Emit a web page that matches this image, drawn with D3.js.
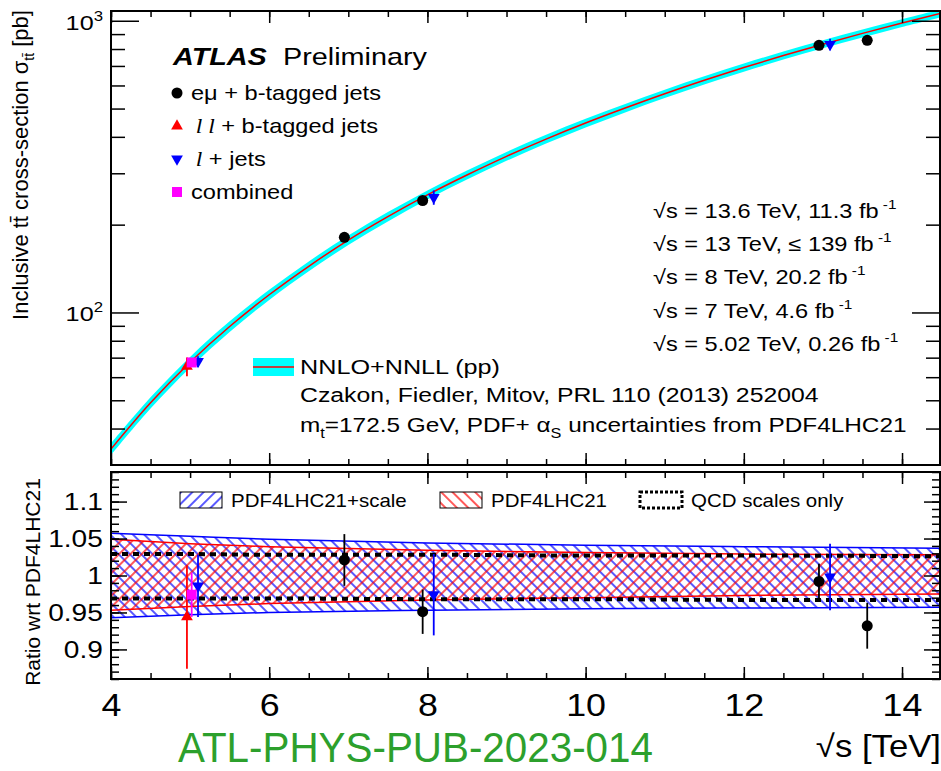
<!DOCTYPE html>
<html>
<head>
<meta charset="utf-8">
<script src="https://cdn.jsdelivr.net/npm/d3@7"></script>
<style>
body { margin: 0; background: #fff; }
text { font-family: "Liberation Sans", Arial, Helvetica, sans-serif; fill: #000; }
</style>
</head>
<body>
<div class="container"></div>
<script>
const width = 941, height = 771;
const plotL = 111, plotR = 940;
const topT = 11, topB = 465, ratT = 472, ratB = 679;

// NNLO+NNLL prediction (pb) vs sqrt(s) (TeV)
const theoryE = [4, 4.5, 5, 5.5, 6, 6.5, 7, 7.5, 8, 8.5, 9, 9.5, 10, 10.5, 11, 11.5, 12, 12.5, 13, 13.5, 14, 14.5];
const theorySigma = [34, 49, 67.5, 89.5, 115, 144, 177, 213, 253, 296, 343, 393, 446, 502, 562, 625, 691, 760, 831, 905, 982, 1062];

// relative uncertainty bands (ratio to central)
const bandE = [4, 5, 6, 8, 10, 12, 14.5];
const totalUp = [1.057, 1.053, 1.049, 1.044, 1.041, 1.039, 1.037];
const totalDn = [0.943, 0.947, 0.950, 0.953, 0.955, 0.956, 0.957];
const pdfUp = [1.049, 1.043, 1.039, 1.034, 1.031, 1.029, 1.028];
const pdfDn = [0.953, 0.958, 0.962, 0.967, 0.970, 0.973, 0.975];
const scaleUp = [1.029, 1.029, 1.028, 1.028, 1.027, 1.027, 1.026];
const scaleDn = [0.969, 0.969, 0.969, 0.968, 0.968, 0.967, 0.967];
// cyan band half-width in the upper panel (relative)
const cyanHalf = [0.046, 0.043, 0.040, 0.036, 0.034, 0.032, 0.031];

// measurements
const emuE = [6.95, 7.94, 12.95, 13.56];
const emuSigma = [181, 242, 824, 857];
const emuRatio = [1.021, 0.951, 0.992, 0.932];
const emuErr = [0.035, 0.030, 0.024, 0.031];

const llE = [4.96];
const llSigma = [65.3];
const llRatio = [0.944];
const llErr = [0.070];

const ljE = [5.10, 8.08, 13.09];
const ljSigma = [67.9, 248, 830];
const ljRatio = [0.986, 0.974, 0.998];
const ljErr = [0.042, 0.055, 0.045];

const combE = [5.02];
const combSigma = [67.4];
const combRatio = [0.974];
const combErr = [0.030];

const runEnergy = ["13.6", "13", "8", "7", "5.02"];
const runLumi = ["11.3", "\u2264 139", "20.2", "4.6", "0.26"];

const xTicks = [4, 6, 8, 10, 12, 14];
const xMinor = d3.range(4, 14.5, 0.5);
const yTopMajor = [100, 1000];
const yTopMinor = [40, 50, 60, 70, 80, 90, 200, 300, 400, 500, 600, 700, 800, 900];
const yRatTicks = [0.9, 0.95, 1, 1.05, 1.1];
const yRatMinor = d3.range(86, 115).map(v => v / 100);

const svg = d3.select(".container")
    .append("svg")
    .attr("width", width)
    .attr("height", height);

const x = d3.scaleLinear().domain([4, 14.48]).range([plotL, plotR]);
const yTop = d3.scaleLog().domain([30, 1080]).range([topB, topT]);
const yRat = d3.scaleLinear().domain([0.86, 1.14]).range([ratB, ratT]);

const defs = svg.append("defs");
const hatch = (id, color, angle, gap) => {
    const p = defs.append("pattern").attr("id", id)
        .attr("patternUnits", "userSpaceOnUse")
        .attr("width", gap).attr("height", gap)
        .attr("patternTransform", `rotate(${angle})`);
    p.append("line").attr("x1", gap / 2).attr("y1", 0).attr("x2", gap / 2).attr("y2", gap)
        .attr("stroke", color).attr("stroke-width", 1.3);
};
hatch("blueBand", "#0000ff", -45, 8);
hatch("redBand", "#ff0000", 45, 8);
hatch("blueLeg", "#0000ff", 45, 8);
hatch("redLeg", "#ff0000", -45, 8);

defs.append("clipPath").attr("id", "clipTop").append("rect")
    .attr("x", plotL).attr("y", topT).attr("width", plotR - plotL).attr("height", topB - topT);
defs.append("clipPath").attr("id", "clipRat").append("rect")
    .attr("x", plotL).attr("y", ratT).attr("width", plotR - plotL).attr("height", ratB - ratT);

const txt = (g, px, py, size, sx = 1.18, anchor = "start") => g.append("text")
    .attr("transform", `translate(${px},${py}) scale(${sx},1)`)
    .attr("font-size", size)
    .attr("text-anchor", anchor);

// ---------- top panel ----------
const gTop = svg.append("g").attr("clip-path", "url(#clipTop)");
const halfAt = d3.scaleLinear().domain(bandE).range(cyanHalf);
const theory = theoryE.map((e, i) => ({e, s: theorySigma[i]}));

gTop.append("path")
    .datum(theory)
    .attr("fill", "#00ffff")
    .attr("d", d3.area()
        .x(d => x(d.e))
        .y0(d => yTop(d.s * (1 - halfAt(d.e))))
        .y1(d => yTop(d.s * (1 + halfAt(d.e))))
        .curve(d3.curveCatmullRom));

gTop.append("path")
    .datum(theory)
    .attr("fill", "none")
    .attr("stroke", "#ff0000")
    .attr("stroke-width", 1.5)
    .attr("d", d3.line().x(d => x(d.e)).y(d => yTop(d.s)).curve(d3.curveCatmullRom));

const series = [
    {E: emuE, S: emuSigma, R: emuRatio, err: emuErr, color: "#000", sym: d3.symbolCircle, size: 95, rot: 0},
    {E: ljE, S: ljSigma, R: ljRatio, err: ljErr, color: "#0000ff", sym: d3.symbolTriangle, size: 60, rot: 180},
    {E: llE, S: llSigma, R: llRatio, err: llErr, color: "#ff0000", sym: d3.symbolTriangle, size: 60, rot: 0},
    {E: combE, S: combSigma, R: combRatio, err: combErr, color: "#ff00ff", sym: d3.symbolSquare, size: 100, rot: 0}
];

const drawPoints = (g, yScale, valueOf, lowOf, highOf) => {
    series.forEach(s => {
        const pts = s.E.map((e, i) => ({e, v: valueOf(s, i), lo: lowOf(s, i), hi: highOf(s, i)}));
        g.selectAll(null).data(pts).enter().append("line")
            .attr("x1", d => x(d.e)).attr("x2", d => x(d.e))
            .attr("y1", d => yScale(d.lo)).attr("y2", d => yScale(d.hi))
            .attr("stroke", s.color).attr("stroke-width", 1.8);
        g.selectAll(null).data(pts).enter().append("path")
            .attr("d", d3.symbol().type(s.sym).size(s.size))
            .attr("transform", d => `translate(${x(d.e)},${yScale(d.v)}) rotate(${s.rot})`)
            .attr("fill", s.color);
    });
};
drawPoints(gTop, yTop,
    (s, i) => s.S[i],
    (s, i) => s.S[i] * (1 - s.err[i] / s.R[i]),
    (s, i) => s.S[i] * (1 + s.err[i] / s.R[i]));

// ---------- ratio panel ----------
const gRat = svg.append("g").attr("clip-path", "url(#clipRat)");
const bands = bandE.map((e, i) => ({e, tu: totalUp[i], td: totalDn[i], pu: pdfUp[i], pd: pdfDn[i], su: scaleUp[i], sd: scaleDn[i]}));
const bandArea = (lo, hi) => d3.area().x(d => x(d.e)).y0(d => yRat(d[lo])).y1(d => yRat(d[hi])).curve(d3.curveMonotoneX);
const bandLine = key => d3.line().x(d => x(d.e)).y(d => yRat(d[key])).curve(d3.curveMonotoneX);

gRat.append("path").datum(bands).attr("fill", "url(#blueBand)").attr("d", bandArea("td", "tu"));
gRat.append("path").datum(bands).attr("fill", "url(#redBand)").attr("d", bandArea("pd", "pu"));
[["tu", "#0000ff"], ["td", "#0000ff"], ["pu", "#ff0000"], ["pd", "#ff0000"]].forEach(([k, c]) => {
    gRat.append("path").datum(bands).attr("fill", "none").attr("stroke", c).attr("stroke-width", 1.5).attr("d", bandLine(k));
});
["su", "sd"].forEach(k => {
    gRat.append("path").datum(bands).attr("fill", "none").attr("stroke", "#000")
        .attr("stroke-width", 4).attr("stroke-dasharray", "6,5").attr("d", bandLine(k));
});

drawPoints(gRat, yRat,
    (s, i) => s.R[i],
    (s, i) => s.R[i] - s.err[i],
    (s, i) => s.R[i] + s.err[i]);

// ---------- ticks and frames ----------
const tickSet = (axis, at, values, size) => {
    const g = svg.append("g").attr("transform", at)
        .call(axis.tickValues(values).tickSize(size).tickSizeOuter(0).tickFormat(""));
    g.select(".domain").remove();
    g.selectAll("line").attr("stroke", "#000").attr("stroke-width", 1.5);
    return g;
};
[[topT, topB], [ratT, ratB]].forEach(([t, b]) => {
    tickSet(d3.axisBottom(x), `translate(0,${b})`, xMinor, -6);
    tickSet(d3.axisBottom(x), `translate(0,${b})`, xTicks, -12);
    tickSet(d3.axisTop(x), `translate(0,${t})`, xMinor, -6);
    tickSet(d3.axisTop(x), `translate(0,${t})`, xTicks, -12);
});
tickSet(d3.axisLeft(yTop), `translate(${plotL},0)`, yTopMinor, -14);
tickSet(d3.axisLeft(yTop), `translate(${plotL},0)`, yTopMajor, -28);
tickSet(d3.axisRight(yTop), `translate(${plotR},0)`, yTopMinor, -14);
tickSet(d3.axisRight(yTop), `translate(${plotR},0)`, yTopMajor, -28);
tickSet(d3.axisLeft(yRat), `translate(${plotL},0)`, yRatMinor, -8);
tickSet(d3.axisLeft(yRat), `translate(${plotL},0)`, yRatTicks, -16);
tickSet(d3.axisRight(yRat), `translate(${plotR},0)`, yRatMinor, -8);
tickSet(d3.axisRight(yRat), `translate(${plotR},0)`, yRatTicks, -16);

svg.append("g").attr("transform", `translate(0,${ratB})`)
    .call(d3.axisBottom(x).tickValues(xTicks).tickSize(0).tickPadding(14).tickFormat(d3.format("d")))
    .call(g => g.select(".domain").remove())
    .call(g => g.attr("font-family", null).attr("font-size", null))
    .selectAll("text").attr("font-size", 32).attr("transform", "scale(1.12,1)");

svg.append("g").attr("transform", `translate(${plotL},0)`)
    .call(d3.axisLeft(yRat).tickValues(yRatTicks).tickSize(0).tickPadding(7).tickFormat(d => String(+d.toFixed(2))))
    .call(g => g.select(".domain").remove())
    .call(g => g.attr("font-family", null).attr("font-size", null))
    .selectAll("text").attr("font-size", 24).attr("transform", "scale(1.17,1)");

yTopMajor.forEach(v => {
    const t = txt(svg, 103, yTop(v) + 9, 21, 1.2, "end");
    t.append("tspan").text("10");
    t.append("tspan").attr("font-size", 14).attr("dy", -9).text(String(Math.round(Math.log10(v))));
});

[[topT, topB], [ratT, ratB]].forEach(([t, b]) => {
    svg.append("rect").attr("x", plotL).attr("y", t).attr("width", plotR - plotL).attr("height", b - t)
        .attr("fill", "none").attr("stroke", "#000").attr("stroke-width", 2);
});

// ---------- axis titles ----------
const yT = svg.append("text").attr("transform", "translate(28,165) rotate(-90)")
    .attr("font-size", 22).attr("text-anchor", "middle");
yT.append("tspan").text("Inclusive tt\u0304 cross-section \u03c3");
yT.append("tspan").attr("font-size", 14).attr("dy", 6).text("tt\u0304");
yT.append("tspan").attr("dy", -6).text(" [pb]");

svg.append("text").attr("transform", "translate(40,582) rotate(-90)")
    .attr("font-size", 21).attr("text-anchor", "middle").text("Ratio wrt PDF4LHC21");

txt(svg, 941, 757, 31, 1.12, "end").text("\u221as [TeV]");

svg.append("text").attr("x", 178).attr("y", 762)
    .attr("font-family", "'Liberation Sans Narrow', 'Liberation Sans', sans-serif")
    .attr("font-size", 42).attr("fill", "#2ca02c").style("fill", "#2ca02c")
    .attr("textLength", 475).attr("lengthAdjust", "spacingAndGlyphs")
    .text("ATL-PHYS-PUB-2023-014");

// ---------- legends ----------
txt(svg, 173, 65, 24, 1.2).attr("font-weight", "bold").attr("font-style", "italic").text("ATLAS");
txt(svg, 283, 65, 24, 1.2).text("Preliminary");

const legRows = [
    {s: series[0], label: [["e\u03bc + b-tagged jets", false]]},
    {s: series[2], label: [["l l", true], [" + b-tagged jets", false]]},
    {s: series[1], label: [["l", true], [" + jets", false]]},
    {s: series[3], label: [["combined", false]]}
];
legRows.forEach((r, i) => {
    const cy = 93 + i * 33;
    svg.append("path").attr("d", d3.symbol().type(r.s.sym).size(r.s.size))
        .attr("transform", `translate(177,${cy}) rotate(${r.s.rot})`).attr("fill", r.s.color);
    const t = txt(svg, 191, cy + 7, 20, 1.18);
    r.label.forEach(([str, it]) => {
        const ts = t.append("tspan").text(it ? "\u2009" + str : str);
        if (it) ts.attr("font-style", "italic").attr("font-family", "'Liberation Serif', serif");
    });
});

runEnergy.forEach((e, i) => {
    const cy = [211, 244, 277, 311, 344][i];
    const t = txt(svg, 653, cy + 7, 20, 1.18);
    t.append("tspan").text(`\u221as = ${e} TeV, ${runLumi[i]} fb`);
    t.append("tspan").attr("font-size", 13).attr("dy", -9).text(" -1");
});

svg.append("rect").attr("x", 253).attr("y", 358).attr("width", 41).attr("height", 18).attr("fill", "#00ffff");
svg.append("line").attr("x1", 253).attr("x2", 294).attr("y1", 367).attr("y2", 367)
    .attr("stroke", "#ff0000").attr("stroke-width", 1.5);
txt(svg, 300, 374, 21, 1.2).text("NNLO+NNLL (pp)");
txt(svg, 300, 402, 21, 1.18).text("Czakon, Fiedler, Mitov, PRL 110 (2013) 252004");
const mt = txt(svg, 300, 432, 21, 1.16);
mt.append("tspan").text("m");
mt.append("tspan").attr("font-size", 14).attr("dy", 6).text("t");
mt.append("tspan").attr("dy", -6).text("=172.5 GeV, PDF+ \u03b1");
mt.append("tspan").attr("font-size", 14).attr("dy", 6).text("S");
mt.append("tspan").attr("dy", -6).text(" uncertainties from PDF4LHC21");

const ratLeg = [
    {x0: 180, fill: "url(#blueLeg)", label: "PDF4LHC21+scale", dashed: false},
    {x0: 440, fill: "url(#redLeg)", label: "PDF4LHC21", dashed: false},
    {x0: 640, fill: "none", label: "QCD scales only", dashed: true}
];
ratLeg.forEach(l => {
    svg.append("rect").attr("x", l.x0).attr("y", 492).attr("width", 42).attr("height", 16)
        .attr("fill", l.dashed ? "none" : l.fill).attr("stroke", "#000")
        .attr("stroke-width", l.dashed ? 3 : 1)
        .attr("stroke-dasharray", l.dashed ? "3,2" : null);
    txt(svg, l.x0 + 51, 507, 17.5, 1.17).text(l.label);
});
</script>
</body>
</html>
